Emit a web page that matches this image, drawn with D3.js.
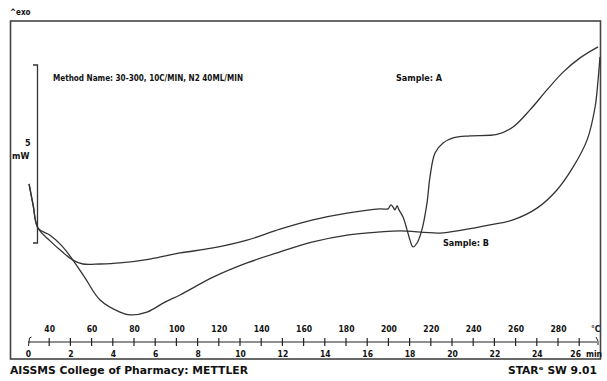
<!DOCTYPE html>
<html>
<head>
<meta charset="utf-8">
<script src="https://cdn.jsdelivr.net/npm/d3@7"></script>
<style>
body { margin: 0; background: #fff; }
text { font-family: "Liberation Sans Narrow", "DejaVu Sans Condensed", "Arial Narrow", sans-serif; font-weight: bold; fill: #111; }
</style>
</head>
<body>
<div id="canvas"></div>
<script>
// ----------------------------------------------------------
// DATA -----------------------------------------------------
// ----------------------------------------------------------
// sample A: temperature (°C) and heat flow (mW)
var sample_a_temp = [30.5, 32.4, 34.7, 40.4, 46.0, 51.2, 55.9, 64.0, 73.4, 87.5, 101.7, 117.3, 133.3, 148.9, 164.4, 180.5, 196.0, 199.8, 201.2, 202.2, 203.1, 204.1, 205.0, 206.9, 208.8, 210.2, 211.6, 213.5, 215.8, 218.2, 219.6, 222.0, 225.8, 230.5, 238.5, 251.2, 258.8, 266.8, 274.8, 282.4, 290.4, 298.9];
var sample_a_mw = [1.66, 1.07, 0.42, 0.06, -0.24, -0.48, -0.59, -0.59, -0.56, -0.45, -0.28, -0.14, 0.08, 0.39, 0.65, 0.84, 0.96, 0.96, 1.07, 1.01, 0.93, 1.04, 0.93, 0.73, 0.37, 0.08, -0.11, 0.00, 0.37, 1.12, 1.85, 2.53, 2.81, 2.95, 3.01, 3.05, 3.26, 3.74, 4.30, 4.80, 5.20, 5.51];
// sample B
var sample_b_temp = [30.5, 32.4, 34.7, 40.4, 46.0, 51.2, 56.9, 64.0, 73.4, 78.1, 86.1, 94.6, 101.7, 117.3, 133.3, 148.9, 164.4, 180.5, 196.0, 205.5, 224.3, 235.2, 247.9, 258.8, 270.1, 279.5, 287.1, 293.7, 297.5, 298.9, 299.8];
var sample_b_mw = [1.66, 1.07, 0.42, 0.22, -0.08, -0.48, -0.98, -1.60, -1.94, -2.02, -1.94, -1.66, -1.46, -0.96, -0.56, -0.25, 0.03, 0.22, 0.31, 0.34, 0.28, 0.37, 0.51, 0.65, 0.98, 1.49, 2.13, 2.89, 3.82, 4.58, 5.22];
// axis ticks
var temp_labels = [40, 60, 80, 100, 120, 140, 160, 180, 200, 220, 240, 260, 280];
var time_labels = [0, 2, 4, 6, 8, 10, 12, 14, 16, 18, 20, 22, 24, 26];
var time_ticks = d3.range(0, 27, 1);

// ----------------------------------------------------------
// STRUCTURE ------------------------------------------------
// ----------------------------------------------------------
var svg = d3.select("#canvas").append("svg")
.attr("width", 607)
.attr("height", 381)
.style("background-color", "#fff");

var frame_group = svg.append("g").attr("class", "frame_group");
var gfx_group = svg.append("g").attr("class", "gfx_group");
var text_group = svg.append("g").attr("class", "text_group");

// scales: temperature and time share the same horizontal range (10 C/min from 30 C)
var xScale = d3.scaleLinear().domain([30, 300]).range([28, 600.4]);
var tScale = d3.scaleLinear().domain([0, 27]).range([28, 600.4]);
var yScale = d3.scaleLinear().domain([0, 5]).range([243, 65]);
var axis_y = 342;

// ----------------------------------------------------------
// LAYOUT ---------------------------------------------------
// ----------------------------------------------------------
frame_group.append("rect")
.attr("x", 10.5).attr("y", 21)
.attr("width", 590).attr("height", 338)
.style("fill", "none")
.style("stroke", "#444")
.style("stroke-width", 1.6);

// 5 mW scale bracket
frame_group.append("path")
.attr("d", "M33," + yScale(5) + "H37.5V" + yScale(0) + "H33")
.style("fill", "none")
.style("stroke", "#333")
.style("stroke-width", 1.3);

// ----------------------------------------------------------
// AXIS -----------------------------------------------------
// ----------------------------------------------------------
var axis_group = gfx_group.append("g").attr("class", "axis_group");
axis_group.append("line")
.attr("x1", tScale(0)).attr("x2", 597)
.attr("y1", axis_y).attr("y2", axis_y)
.style("stroke", "#222").style("stroke-width", 1.2);

axis_group.selectAll(".tick_mark")
.data(time_ticks.slice(1))
.enter().append("line")
.attr("class", "tick_mark")
.attr("x1", function(d) { return tScale(d); })
.attr("x2", function(d) { return tScale(d); })
.attr("y1", axis_y - 4).attr("y2", axis_y + 4)
.style("stroke", "#222").style("stroke-width", 1.2);

// start and end marks
axis_group.append("path")
.attr("d", "M28.5," + (axis_y + 4) + "L29.5," + (axis_y - 4) + "L31.5," + (axis_y - 5))
.style("fill", "none").style("stroke", "#222").style("stroke-width", 1);
axis_group.append("path")
.attr("d", "M596," + (axis_y - 5) + "L598," + (axis_y - 1) + "L598," + (axis_y + 3))
.style("fill", "none").style("stroke", "#222").style("stroke-width", 1);

// temperature labels
axis_group.append("g")
.attr("transform", "translate(0," + (axis_y - 10) + ")")
.call(d3.axisTop(xScale).tickValues(temp_labels).tickSize(0).tickPadding(0))
.call(customAxis);

// time labels
var time_axis = axis_group.append("g")
.attr("transform", "translate(0," + (axis_y + 9) + ")")
.call(d3.axisBottom(tScale).tickValues(time_labels).tickSize(0).tickPadding(0))
.call(customAxis);

function customAxis(g) {
g.select(".domain").remove();
g.selectAll(".tick text")
.style("font-family", null)
.style("font-size", "8.5px")
.attr("fill", "#111");
}
// shift last time label left so "min" fits
time_axis.select(".tick:last-of-type text").attr("dx", -4);

// ----------------------------------------------------------
// GFX ------------------------------------------------------
// ----------------------------------------------------------
var line = d3.line()
.x(function(d) { return xScale(d[0]); })
.y(function(d) { return yScale(d[1]); })
.curve(d3.curveCatmullRom.alpha(0.5));

var series = [
d3.zip(sample_a_temp, sample_a_mw),
d3.zip(sample_b_temp, sample_b_mw)
];

gfx_group.selectAll(".curve")
.data(series)
.enter().append("path")
.attr("class", "curve")
.attr("d", line)
.style("fill", "none")
.style("stroke", "#333")
.style("stroke-width", 1.3);

// ----------------------------------------------------------
// TEXT -----------------------------------------------------
// ----------------------------------------------------------
text_group.append("text")
.attr("x", 10).attr("y", 15)
.style("font-size", "8px")
.text("^exo");

text_group.append("text")
.attr("x", 53).attr("y", 81)
.attr("textLength", 190).attr("lengthAdjust", "spacingAndGlyphs")
.style("font-size", "9px")
.text("Method Name: 30-300, 10C/MIN, N2 40ML/MIN");

text_group.append("text")
.attr("x", 396).attr("y", 81)
.style("font-size", "9px")
.text("Sample: A");

text_group.append("text")
.attr("x", 443).attr("y", 246)
.style("font-size", "9px")
.text("Sample: B");

text_group.append("text")
.attr("x", 25).attr("y", 146)
.style("font-size", "9px")
.text("5");

text_group.append("text")
.attr("x", 12).attr("y", 159)
.style("font-size", "9px")
.text("mW");

text_group.append("text")
.attr("x", 591).attr("y", axis_y - 10)
.style("font-size", "8.5px")
.text("°C");

text_group.append("text")
.attr("x", 586).attr("y", axis_y + 15)
.style("font-size", "8.5px")
.text("min");

text_group.append("text")
.attr("x", 10).attr("y", 374)
.attr("textLength", 238).attr("lengthAdjust", "spacingAndGlyphs")
.style("font-size", "10px")
.style("font-weight", "900")
.text("AISSMS College of Pharmacy: METTLER");

text_group.append("text")
.attr("x", 597).attr("y", 374)
.attr("text-anchor", "end")
.attr("textLength", 89).attr("lengthAdjust", "spacingAndGlyphs")
.style("font-size", "10px")
.style("font-weight", "900")
.text("STARᵉ SW 9.01");
</script>
</body>
</html>
